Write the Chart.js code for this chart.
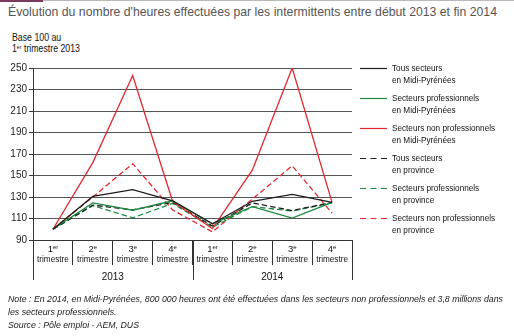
<!DOCTYPE html>
<html>
<head>
<meta charset="utf-8">
<script src="https://cdn.jsdelivr.net/npm/chart.js@4"></script>
<style>
  body { margin: 0; background: #fff; font-family: "Liberation Sans", Arial, sans-serif; }
  #wrap { position: relative; width: 514px; height: 336px; overflow: hidden; }
  #topbar { position: absolute; left: 0; top: 0; width: 514px; height: 1px; background: #b9b9b9; }
  #topbar span { position: absolute; left: 0; top: 0; width: 43px; height: 2px; background: #7a3a5e; }
  .fit { position: absolute; white-space: nowrap; transform-origin: 0 0; }
  #title { left: 8px; top: 4px; font-size: 13px; color: #555; }
  #base { left: 12px; top: 32px; font-size: 10px; line-height: 11px; color: #111; }
  #base sup { font-size: 6px; vertical-align: 3px; line-height: 0; }
  #note { left: 8px; top: 292px; font-size: 9.5px; line-height: 13px; font-style: italic; color: #222; }
  canvas { position: absolute; left: 0; top: 0; }
</style>
</head>
<body>
<div id="wrap">
  <div id="topbar"><span></span></div>
  <div id="title" class="fit" data-w="489">Évolution du nombre d'heures effectuées par les intermittents entre début 2013 et fin 2014</div>
  <div id="base" class="fit" data-w="68">Base 100 au<br>1<sup>er</sup> trimestre 2013</div>
  <canvas id="myChart" width="514" height="336"></canvas>
  <div id="note" class="fit" data-w="495">Note : En 2014, en Midi-Pyrénées, 800 000 heures ont été effectuées dans les secteurs non professionnels et 3,8 millions dans<br>les secteurs professionnels.<br>Source : Pôle emploi - AEM, DUS</div>
</div>
<script>
'use strict'

const quarters = ['1er', '2e', '3e', '4e', '1er', '2e', '3e', '4e']
const years = ['2013', '2014']
const yTicks = [90, 110, 130, 150, 170, 190, 210, 230, 250]

const seriesNames = [
  ['Tous secteurs', 'en Midi-Pyrénées'],
  ['Secteurs professionnels', 'en Midi-Pyrénées'],
  ['Secteurs non professionnels', 'en Midi-Pyrénées'],
  ['Tous secteurs', 'en province'],
  ['Secteurs professionnels', 'en province'],
  ['Secteurs non professionnels', 'en province']
]

const tousMidi = [100, 130.5, 136.8, 126.5, 105, 126, 132.5, 125]
const proMidi = [100, 124.5, 117.7, 126.5, 105, 121, 110.3, 125]
const nonProMidi = [100, 162, 243, 126, 100.5, 155, 250, 125]
const tousProvince = [100, 122.5, 118, 125, 103, 124.5, 117.4, 125]
const proProvince = [100, 122, 110.6, 124, 102, 121, 117, 124.5]
const nonProProvince = [100, 130, 161, 118, 97.5, 128, 159, 115]

const black = '#1e1e1e'
const green = '#1d8a3e'
const red = '#e2282d'
const dash = [5.5, 3]

const values = [tousMidi, proMidi, nonProMidi, tousProvince, proProvince, nonProProvince]
const colors = [black, green, red, black, green, red]

// squeeze html text blocks to the width they have in the picture
document.querySelectorAll('.fit').forEach(el => {
  const w = el.getBoundingClientRect().width
  el.style.transform = `scaleX(${el.dataset.w / w})`
})

const datasets = values.map((v, i) => ({
  label: seriesNames[i].join(' '),
  data: v,
  borderColor: colors[i],
  borderWidth: 1.3,
  borderDash: i >= 3 ? dash : [],
  pointRadius: 0,
  tension: 0,
  fill: false,
  order: i >= 3 ? 1 : 0
}))

const FONT = '"Liberation Sans", Arial, sans-serif'
const narrow = 0.86

const squeezedText = (ctx, t, x, y) => {
  ctx.save()
  ctx.translate(x, y)
  ctx.scale(narrow, 1)
  ctx.fillText(t, 0, 0)
  ctx.restore()
}

// x labels (with superscripts), year row, long separators and legend
const extras = {
  id: 'extras',
  afterDraw (chart) {
    const ctx = chart.ctx
    const xs = chart.scales.x
    const area = chart.chartArea
    const step = xs.getPixelForValue(1) - xs.getPixelForValue(0)
    ctx.save()
    ctx.fillStyle = '#111'
    ctx.textBaseline = 'middle'
    quarters.forEach((q, i) => {
      const x = xs.getPixelForValue(i)
      const num = q.match(/^\d+/)[0]
      const sup = q.slice(num.length)
      ctx.font = `9.5px ${FONT}`
      const wn = ctx.measureText(num).width
      ctx.font = `6px ${FONT}`
      const ws = ctx.measureText(sup).width
      const x0 = x - (wn + ws) / 2
      ctx.textAlign = 'left'
      ctx.font = `9.5px ${FONT}`
      ctx.fillText(num, x0, area.bottom + 9)
      ctx.font = `6px ${FONT}`
      ctx.fillText(sup, x0 + wn, area.bottom + 7)
      ctx.textAlign = 'center'
      ctx.font = `9.5px ${FONT}`
      squeezedText(ctx, 'trimestre', x, area.bottom + 19)
    })
    const perYear = quarters.length / years.length
    ctx.strokeStyle = '#333'
    ctx.lineWidth = 1
    years.forEach((y, j) => {
      const first = xs.getPixelForValue(j * perYear) - step / 2
      const last = xs.getPixelForValue((j + 1) * perYear - 1) + step / 2
      ctx.font = `10px ${FONT}`
      ctx.textAlign = 'center'
      ctx.fillText(y, (first + last) / 2, area.bottom + 37)
      ;[first, last].forEach(px => {
        const xx = Math.round(px) + 0.5
        ctx.beginPath()
        ctx.moveTo(xx, area.bottom)
        ctx.lineTo(xx, area.bottom + 40)
        ctx.stroke()
      })
    })
    // legend
    chart.data.datasets.forEach((ds, i) => {
      const y0 = 68 + i * 30
      ctx.strokeStyle = ds.borderColor
      ctx.lineWidth = 1.2
      ctx.setLineDash(ds.borderDash.length ? [6, 4.5] : [])
      ctx.beginPath()
      ctx.moveTo(360, y0 + 0.5)
      ctx.lineTo(387, y0 + 0.5)
      ctx.stroke()
      ctx.setLineDash([])
      ctx.fillStyle = '#111'
      ctx.textAlign = 'left'
      ctx.font = `9.5px ${FONT}`
      seriesNames[i].forEach((t, k) => squeezedText(ctx, t, 392, y0 + k * 12.5))
    })
    ctx.restore()
  }
}

const ctx = document.getElementById('myChart')

const myChart = new Chart(ctx, {
  type: 'line',
  data: {
    labels: quarters.map(q => q + ' trimestre'),
    datasets: datasets
  },
  plugins: [extras],
  options: {
    responsive: false,
    animation: false,
    devicePixelRatio: 1,
    layout: { padding: { left: 0, top: 68, right: 162, bottom: 0 } },
    plugins: { legend: { display: false }, tooltip: { enabled: false } },
    scales: {
      x: {
        offset: true,
        afterFit: (scale) => { scale.height = 96 },
        ticks: { display: false },
        grid: {
          offset: true,
          drawOnChartArea: false,
          drawTicks: true,
          tickLength: 25,
          color: '#333',
          lineWidth: 1
        },
        border: { color: '#333', width: 1 }
      },
      y: {
        min: yTicks[0],
        max: yTicks[yTicks.length - 1],
        afterFit: (scale) => { scale.width = 33 },
        afterBuildTicks: (scale) => { scale.ticks = yTicks.map(v => ({ value: v })) },
        ticks: {
          padding: 2,
          color: '#222',
          font: { family: FONT, size: 10 }
        },
        grid: {
          color: '#555',
          lineWidth: 1,
          borderDash: [6, 4],
          tickLength: 4,
          tickBorderDash: [],
          tickColor: '#333'
        },
        border: { color: '#333', width: 1, dash: [] }
      }
    }
  }
})
</script>
</body>
</html>
